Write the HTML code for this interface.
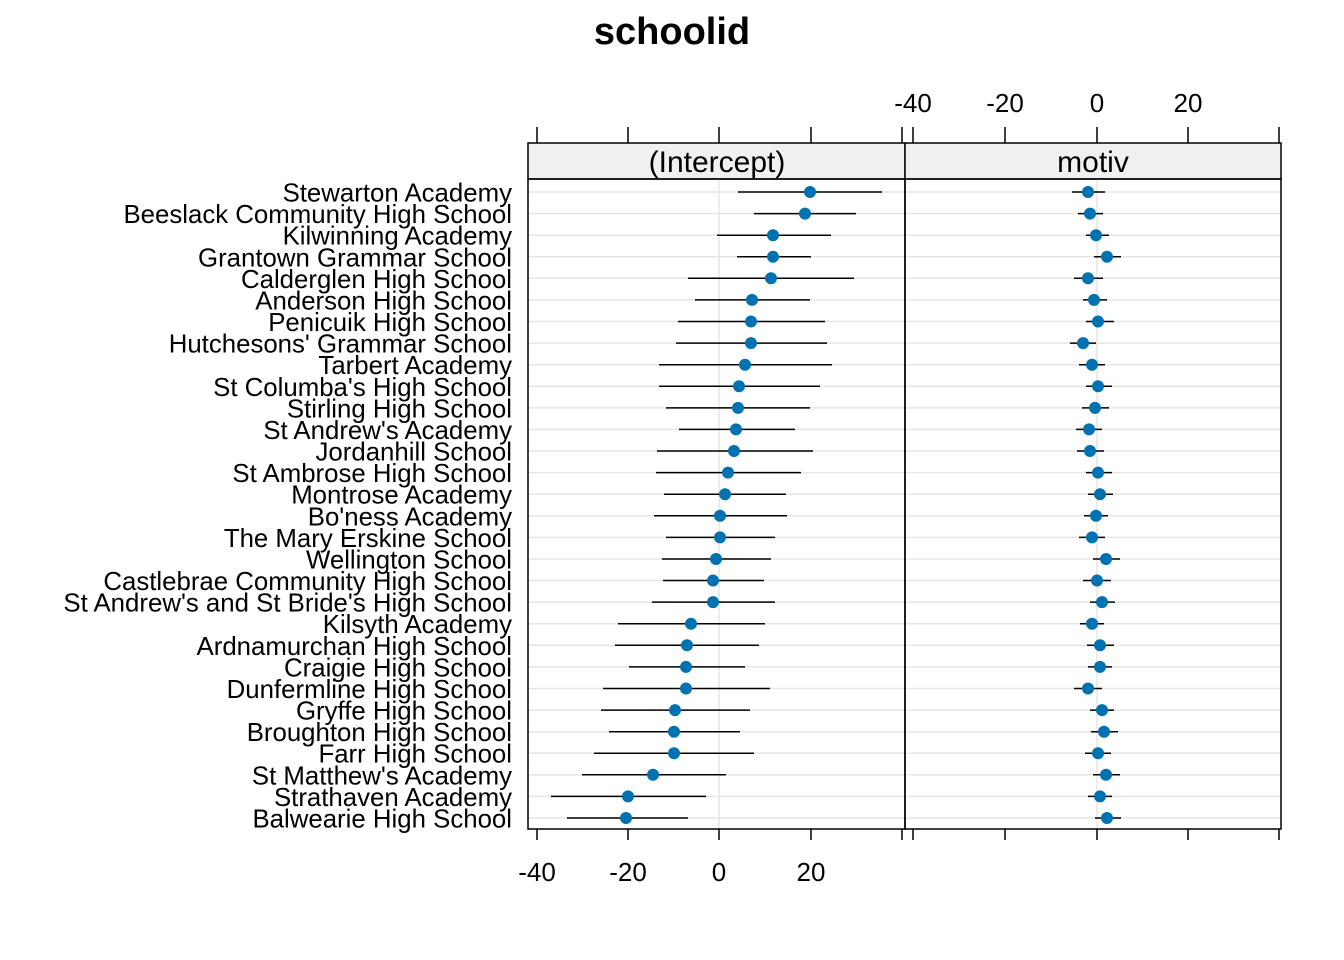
<!DOCTYPE html>
<html><head><meta charset="utf-8"><style>
html,body{margin:0;padding:0;background:#fff;}
svg{display:block;font-family:"Liberation Sans",Arial,sans-serif;}
.l{font-size:25.8px;text-anchor:end;fill:#000;}
.t{font-size:26px;text-anchor:middle;fill:#000;}
.s{font-size:30px;text-anchor:middle;fill:#000;}
</style></head><body>
<svg width="1344" height="960" viewBox="0 0 1344 960" xmlns="http://www.w3.org/2000/svg">
<text x="672" y="44" font-size="38" font-weight="bold" text-anchor="middle">schoolid</text>
<rect x="528" y="143" width="377" height="36" fill="#f0f0f0" stroke="#000" stroke-width="1.5"/>
<rect x="905" y="143" width="376" height="36" fill="#f0f0f0" stroke="#000" stroke-width="1.5"/>
<text class="s" x="717" y="172">(Intercept)</text>
<text class="s" x="1093" y="172">motiv</text>
<g stroke="#e6e6e6" stroke-width="1.5">
<line x1="719" y1="179" x2="719" y2="829"/><line x1="1097" y1="179" x2="1097" y2="829"/>
<line x1="528" x2="1281" y1="192" y2="192"/><line x1="528" x2="1281" y1="213.6" y2="213.6"/><line x1="528" x2="1281" y1="235.2" y2="235.2"/><line x1="528" x2="1281" y1="256.8" y2="256.8"/><line x1="528" x2="1281" y1="278.3" y2="278.3"/><line x1="528" x2="1281" y1="299.9" y2="299.9"/><line x1="528" x2="1281" y1="321.5" y2="321.5"/><line x1="528" x2="1281" y1="343.1" y2="343.1"/><line x1="528" x2="1281" y1="364.7" y2="364.7"/><line x1="528" x2="1281" y1="386.3" y2="386.3"/><line x1="528" x2="1281" y1="407.9" y2="407.9"/><line x1="528" x2="1281" y1="429.4" y2="429.4"/><line x1="528" x2="1281" y1="451" y2="451"/><line x1="528" x2="1281" y1="472.6" y2="472.6"/><line x1="528" x2="1281" y1="494.2" y2="494.2"/><line x1="528" x2="1281" y1="515.8" y2="515.8"/><line x1="528" x2="1281" y1="537.4" y2="537.4"/><line x1="528" x2="1281" y1="559" y2="559"/><line x1="528" x2="1281" y1="580.5" y2="580.5"/><line x1="528" x2="1281" y1="602.1" y2="602.1"/><line x1="528" x2="1281" y1="623.7" y2="623.7"/><line x1="528" x2="1281" y1="645.3" y2="645.3"/><line x1="528" x2="1281" y1="666.9" y2="666.9"/><line x1="528" x2="1281" y1="688.5" y2="688.5"/><line x1="528" x2="1281" y1="710.1" y2="710.1"/><line x1="528" x2="1281" y1="731.7" y2="731.7"/><line x1="528" x2="1281" y1="753.2" y2="753.2"/><line x1="528" x2="1281" y1="774.8" y2="774.8"/><line x1="528" x2="1281" y1="796.4" y2="796.4"/><line x1="528" x2="1281" y1="818" y2="818"/>
</g>
<rect x="528" y="179" width="377" height="650" fill="none" stroke="#000" stroke-width="1.5"/>
<rect x="905" y="179" width="376" height="650" fill="none" stroke="#000" stroke-width="1.5"/>
<g stroke="#000" stroke-width="1.5">
<line x1="537" y1="829" x2="537" y2="840"/><line x1="628" y1="829" x2="628" y2="840"/><line x1="719" y1="829" x2="719" y2="840"/><line x1="811" y1="829" x2="811" y2="840"/><line x1="902" y1="829" x2="902" y2="840"/>
<line x1="913" y1="829" x2="913" y2="840"/><line x1="1005" y1="829" x2="1005" y2="840"/><line x1="1097" y1="829" x2="1097" y2="840"/><line x1="1188" y1="829" x2="1188" y2="840"/><line x1="1279" y1="829" x2="1279" y2="840"/>
<line x1="537" y1="127" x2="537" y2="143"/><line x1="628" y1="127" x2="628" y2="143"/><line x1="719" y1="127" x2="719" y2="143"/><line x1="811" y1="127" x2="811" y2="143"/><line x1="902" y1="127" x2="902" y2="143"/>
<line x1="913" y1="127" x2="913" y2="143"/><line x1="1005" y1="127" x2="1005" y2="143"/><line x1="1097" y1="127" x2="1097" y2="143"/><line x1="1188" y1="127" x2="1188" y2="143"/><line x1="1279" y1="127" x2="1279" y2="143"/>
</g>
<text class="t" x="537" y="881">-40</text><text class="t" x="628" y="881">-20</text><text class="t" x="719" y="881">0</text><text class="t" x="811" y="881">20</text>
<text class="t" x="913" y="112">-40</text><text class="t" x="1005" y="112">-20</text><text class="t" x="1097" y="112">0</text><text class="t" x="1188" y="112">20</text>
<g>
<text class="l" x="512" y="201.5">Stewarton Academy</text>
<text class="l" x="512" y="223.1">Beeslack Community High School</text>
<text class="l" x="512" y="244.7">Kilwinning Academy</text>
<text class="l" x="512" y="266.3">Grantown Grammar School</text>
<text class="l" x="512" y="287.8">Calderglen High School</text>
<text class="l" x="512" y="309.4">Anderson High School</text>
<text class="l" x="512" y="331">Penicuik High School</text>
<text class="l" x="512" y="352.6">Hutchesons' Grammar School</text>
<text class="l" x="512" y="374.2">Tarbert Academy</text>
<text class="l" x="512" y="395.8">St Columba's High School</text>
<text class="l" x="512" y="417.4">Stirling High School</text>
<text class="l" x="512" y="438.9">St Andrew's Academy</text>
<text class="l" x="512" y="460.5">Jordanhill School</text>
<text class="l" x="512" y="482.1">St Ambrose High School</text>
<text class="l" x="512" y="503.7">Montrose Academy</text>
<text class="l" x="512" y="525.3">Bo'ness Academy</text>
<text class="l" x="512" y="546.9">The Mary Erskine School</text>
<text class="l" x="512" y="568.5">Wellington School</text>
<text class="l" x="512" y="590">Castlebrae Community High School</text>
<text class="l" x="512" y="611.6">St Andrew's and St Bride's High School</text>
<text class="l" x="512" y="633.2">Kilsyth Academy</text>
<text class="l" x="512" y="654.8">Ardnamurchan High School</text>
<text class="l" x="512" y="676.4">Craigie High School</text>
<text class="l" x="512" y="698">Dunfermline High School</text>
<text class="l" x="512" y="719.6">Gryffe High School</text>
<text class="l" x="512" y="741.2">Broughton High School</text>
<text class="l" x="512" y="762.7">Farr High School</text>
<text class="l" x="512" y="784.3">St Matthew's Academy</text>
<text class="l" x="512" y="805.9">Strathaven Academy</text>
<text class="l" x="512" y="827.5">Balwearie High School</text>
</g>
<g stroke="#000" stroke-width="1.5">
<line x1="738" x2="882" y1="192" y2="192"/><line x1="754" x2="856" y1="213.6" y2="213.6"/><line x1="717" x2="831" y1="235.2" y2="235.2"/><line x1="737" x2="811" y1="256.8" y2="256.8"/><line x1="688" x2="854" y1="278.3" y2="278.3"/><line x1="695" x2="810" y1="299.9" y2="299.9"/><line x1="678" x2="825" y1="321.5" y2="321.5"/><line x1="676" x2="827" y1="343.1" y2="343.1"/><line x1="659" x2="832" y1="364.7" y2="364.7"/><line x1="659" x2="820" y1="386.3" y2="386.3"/><line x1="666" x2="810" y1="407.9" y2="407.9"/><line x1="679" x2="795" y1="429.4" y2="429.4"/><line x1="657" x2="813" y1="451" y2="451"/><line x1="656" x2="801" y1="472.6" y2="472.6"/><line x1="664" x2="786" y1="494.2" y2="494.2"/><line x1="654" x2="787" y1="515.8" y2="515.8"/><line x1="666" x2="775" y1="537.4" y2="537.4"/><line x1="662" x2="771" y1="559" y2="559"/><line x1="663" x2="764" y1="580.5" y2="580.5"/><line x1="652" x2="775" y1="602.1" y2="602.1"/><line x1="618" x2="765" y1="623.7" y2="623.7"/><line x1="615" x2="759" y1="645.3" y2="645.3"/><line x1="629" x2="745" y1="666.9" y2="666.9"/><line x1="603" x2="770" y1="688.5" y2="688.5"/><line x1="601" x2="750" y1="710.1" y2="710.1"/><line x1="609" x2="740" y1="731.7" y2="731.7"/><line x1="594" x2="754" y1="753.2" y2="753.2"/><line x1="582" x2="726" y1="774.8" y2="774.8"/><line x1="551" x2="706" y1="796.4" y2="796.4"/><line x1="567" x2="688" y1="818" y2="818"/>
<line x1="1072" x2="1105" y1="192" y2="192"/><line x1="1078" x2="1103" y1="213.6" y2="213.6"/><line x1="1086" x2="1109" y1="235.2" y2="235.2"/><line x1="1094" x2="1121" y1="256.8" y2="256.8"/><line x1="1074" x2="1103" y1="278.3" y2="278.3"/><line x1="1083" x2="1107" y1="299.9" y2="299.9"/><line x1="1086" x2="1114" y1="321.5" y2="321.5"/><line x1="1070" x2="1096" y1="343.1" y2="343.1"/><line x1="1079" x2="1105" y1="364.7" y2="364.7"/><line x1="1086" x2="1112" y1="386.3" y2="386.3"/><line x1="1082" x2="1109" y1="407.9" y2="407.9"/><line x1="1076" x2="1102" y1="429.4" y2="429.4"/><line x1="1077" x2="1104" y1="451" y2="451"/><line x1="1086" x2="1112" y1="472.6" y2="472.6"/><line x1="1088" x2="1113" y1="494.2" y2="494.2"/><line x1="1084" x2="1108" y1="515.8" y2="515.8"/><line x1="1079" x2="1105" y1="537.4" y2="537.4"/><line x1="1093" x2="1120" y1="559" y2="559"/><line x1="1083" x2="1111" y1="580.5" y2="580.5"/><line x1="1090" x2="1115" y1="602.1" y2="602.1"/><line x1="1080" x2="1104" y1="623.7" y2="623.7"/><line x1="1087" x2="1114" y1="645.3" y2="645.3"/><line x1="1088" x2="1112" y1="666.9" y2="666.9"/><line x1="1074" x2="1102" y1="688.5" y2="688.5"/><line x1="1090" x2="1114" y1="710.1" y2="710.1"/><line x1="1091" x2="1118" y1="731.7" y2="731.7"/><line x1="1085" x2="1111" y1="753.2" y2="753.2"/><line x1="1093" x2="1120" y1="774.8" y2="774.8"/><line x1="1088" x2="1112" y1="796.4" y2="796.4"/><line x1="1095" x2="1121" y1="818" y2="818"/>
</g>
<g fill="#0072B2">
<circle cx="810" cy="192" r="6"/><circle cx="805" cy="213.6" r="6"/><circle cx="773" cy="235.2" r="6"/><circle cx="773" cy="256.8" r="6"/><circle cx="771" cy="278.3" r="6"/><circle cx="752" cy="299.9" r="6"/><circle cx="751" cy="321.5" r="6"/><circle cx="751" cy="343.1" r="6"/><circle cx="745" cy="364.7" r="6"/><circle cx="739" cy="386.3" r="6"/><circle cx="738" cy="407.9" r="6"/><circle cx="736" cy="429.4" r="6"/><circle cx="734" cy="451" r="6"/><circle cx="728" cy="472.6" r="6"/><circle cx="725" cy="494.2" r="6"/><circle cx="720" cy="515.8" r="6"/><circle cx="720" cy="537.4" r="6"/><circle cx="716" cy="559" r="6"/><circle cx="713" cy="580.5" r="6"/><circle cx="713" cy="602.1" r="6"/><circle cx="691" cy="623.7" r="6"/><circle cx="687" cy="645.3" r="6"/><circle cx="686" cy="666.9" r="6"/><circle cx="686" cy="688.5" r="6"/><circle cx="675" cy="710.1" r="6"/><circle cx="674" cy="731.7" r="6"/><circle cx="674" cy="753.2" r="6"/><circle cx="653" cy="774.8" r="6"/><circle cx="628" cy="796.4" r="6"/><circle cx="626" cy="818" r="6"/>
<circle cx="1088" cy="192" r="6"/><circle cx="1090" cy="213.6" r="6"/><circle cx="1096" cy="235.2" r="6"/><circle cx="1107" cy="256.8" r="6"/><circle cx="1088" cy="278.3" r="6"/><circle cx="1094" cy="299.9" r="6"/><circle cx="1098" cy="321.5" r="6"/><circle cx="1083" cy="343.1" r="6"/><circle cx="1092" cy="364.7" r="6"/><circle cx="1098" cy="386.3" r="6"/><circle cx="1095" cy="407.9" r="6"/><circle cx="1089" cy="429.4" r="6"/><circle cx="1090" cy="451" r="6"/><circle cx="1098" cy="472.6" r="6"/><circle cx="1100" cy="494.2" r="6"/><circle cx="1096" cy="515.8" r="6"/><circle cx="1092" cy="537.4" r="6"/><circle cx="1106" cy="559" r="6"/><circle cx="1097" cy="580.5" r="6"/><circle cx="1102" cy="602.1" r="6"/><circle cx="1092" cy="623.7" r="6"/><circle cx="1100" cy="645.3" r="6"/><circle cx="1100" cy="666.9" r="6"/><circle cx="1088" cy="688.5" r="6"/><circle cx="1102" cy="710.1" r="6"/><circle cx="1104" cy="731.7" r="6"/><circle cx="1098" cy="753.2" r="6"/><circle cx="1106" cy="774.8" r="6"/><circle cx="1100" cy="796.4" r="6"/><circle cx="1107" cy="818" r="6"/>
</g>
</svg>
</body></html>
